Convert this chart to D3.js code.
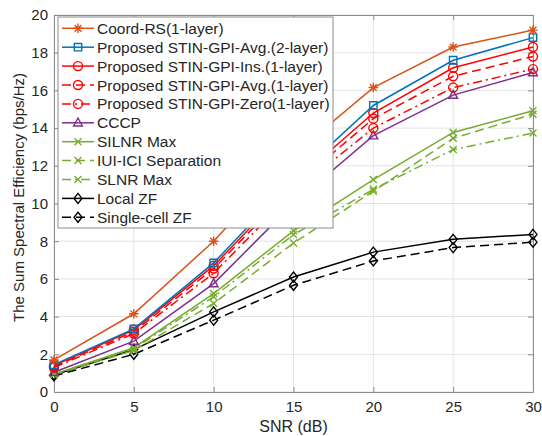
<!DOCTYPE html>
<html>
<head>
<meta charset="utf-8">
<script src="https://cdn.jsdelivr.net/npm/d3@7"></script>
<style>
  html, body { margin: 0; padding: 0; background: #fff; }
  svg { display: block; }
  text { font-family: "Liberation Sans", Arial, Helvetica, sans-serif; fill: #262626; }
</style>
</head>
<body>
<svg id="chart" width="542" height="436"></svg>
<script>
// SNR sweep (dB)
const snr = [0, 5, 10, 15, 20, 25, 30];

// Sum spectral efficiency (bps/Hz) per scheme
const coordRS   = [1.7, 4.15, 8.0, 12.6, 16.15, 18.3, 19.2];
const stinAvg2  = [1.45, 3.35, 6.85, 11.3, 15.2, 17.6, 18.8];
const stinIns1  = [1.4, 3.3, 6.7, 11.1, 14.8, 17.2, 18.3];
const stinAvg1  = [1.35, 3.2, 6.55, 10.9, 14.5, 16.75, 17.8];
const stinZero1 = [1.3, 3.1, 6.3, 10.6, 14.0, 16.15, 17.13];
const cccp      = [1.05, 2.7, 5.75, 10.0, 13.6, 15.75, 16.95];
const silnrMax  = [0.95, 2.35, 5.22, 8.55, 11.27, 13.77, 14.92];
const iuiIciSep = [0.92, 2.2, 4.7, 7.9, 10.65, 13.46, 14.74];
const slnrMax   = [0.95, 2.3, 5.05, 8.35, 10.75, 12.86, 13.74];
const localZF   = [0.9, 2.25, 4.25, 6.1, 7.42, 8.1, 8.36];
const singleZF  = [0.85, 2.0, 3.81, 5.66, 6.95, 7.66, 7.95];

const seriesNames = [
  "Coord-RS(1-layer)",
  "Proposed STIN-GPI-Avg.(2-layer)",
  "Proposed STIN-GPI-Ins.(1-layer)",
  "Proposed STIN-GPI-Avg.(1-layer)",
  "Proposed STIN-GPI-Zero(1-layer)",
  "CCCP",
  "SILNR Max",
  "IUI-ICI Separation",
  "SLNR Max",
  "Local ZF",
  "Single-cell ZF"
];
const seriesValues = [coordRS, stinAvg2, stinIns1, stinAvg1, stinZero1, cccp,
                      silnrMax, iuiIciSep, slnrMax, localZF, singleZF];

const xTicks = [0, 5, 10, 15, 20, 25, 30];
const yTicks = [0, 2, 4, 6, 8, 10, 12, 14, 16, 18, 20];

// styling per series
const ORANGE = "#D95319", BLUE = "#0072BD", RED = "#FF0000",
      PURPLE = "#7E2F8E", GREEN = "#77AC30", BLACK = "#000000";
const DASH = "9,5", DASHDOT = "9,4,2,4";
const styles = [
  { color: ORANGE, dash: null,    marker: "asterisk" },
  { color: BLUE,   dash: null,    marker: "square" },
  { color: RED,    dash: null,    marker: "circle" },
  { color: RED,    dash: DASH,    marker: "circle" },
  { color: RED,    dash: DASHDOT, marker: "circle" },
  { color: PURPLE, dash: null,    marker: "triangle" },
  { color: GREEN,  dash: null,    marker: "cross" },
  { color: GREEN,  dash: DASH,    marker: "cross" },
  { color: GREEN,  dash: DASHDOT, marker: "cross" },
  { color: BLACK,  dash: null,    marker: "diamond" },
  { color: BLACK,  dash: DASH,    marker: "diamond" }
];

const svg = d3.select("#chart");
const plot = { left: 54, right: 533, top: 15, bottom: 392 };

const x = d3.scaleLinear().domain([0, 30]).range([plot.left, plot.right]);
const y = d3.scaleLinear().domain([0, 20]).range([plot.bottom, plot.top]);

// grid
const grid = svg.append("g").attr("stroke", "#e3e3e3").attr("stroke-width", 1);
xTicks.forEach(t => grid.append("line")
  .attr("x1", x(t)).attr("x2", x(t)).attr("y1", plot.top).attr("y2", plot.bottom));
yTicks.forEach(t => grid.append("line")
  .attr("x1", plot.left).attr("x2", plot.right).attr("y1", y(t)).attr("y2", y(t)));

// axes with inward ticks on all four sides
const axisColor = "#8c8c8c";
function styleAxis(g) {
  g.select(".domain").attr("stroke", axisColor);
  g.selectAll(".tick line").attr("stroke", axisColor);
  g.selectAll(".tick text").attr("fill", "#262626").style("font-size", "15px")
    .style("font-family", "'Liberation Sans', Arial, sans-serif");
}
svg.append("g").attr("transform", `translate(0,${plot.bottom})`)
  .call(d3.axisBottom(x).tickValues(xTicks).tickFormat(d3.format("d"))
    .tickSizeInner(-5).tickSizeOuter(0).tickPadding(9))
  .call(styleAxis);
svg.append("g").attr("transform", `translate(${plot.left},0)`)
  .call(d3.axisLeft(y).tickValues(yTicks).tickFormat(d3.format("d"))
    .tickSizeInner(-5).tickSizeOuter(0).tickPadding(6))
  .call(styleAxis);
svg.append("g").attr("transform", `translate(0,${plot.top})`)
  .call(d3.axisTop(x).tickValues(xTicks).tickFormat("")
    .tickSizeInner(-5).tickSizeOuter(0))
  .call(styleAxis);
svg.append("g").attr("transform", `translate(${plot.right},0)`)
  .call(d3.axisRight(y).tickValues(yTicks).tickFormat("")
    .tickSizeInner(-5).tickSizeOuter(0))
  .call(styleAxis);

// axis titles
svg.append("text").attr("x", (plot.left + plot.right) / 2).attr("y", 432)
  .attr("text-anchor", "middle").style("font-size", "16px").text("SNR (dB)");
svg.append("text")
  .attr("transform", `translate(24,${(plot.top + plot.bottom) / 2 - 6}) rotate(-90)`)
  .attr("text-anchor", "middle").style("font-size", "15px")
  .text("The Sum Spectral Efficiency (bps/Hz)");

// marker path generators
function markerPath(kind) {
  switch (kind) {
    case "asterisk": {
      const r = 4.8, d = r * 0.7071;
      return `M${-r},0L${r},0M0,${-r}L0,${r}M${-d},${-d}L${d},${d}M${-d},${d}L${d},${-d}`;
    }
    case "square":   return "M-3.7,-3.7H3.7V3.7H-3.7Z";
    case "circle":   return "M4.5,0A4.5,4.5 0 1,1 -4.5,0A4.5,4.5 0 1,1 4.5,0Z";
    case "triangle": return "M0,-4.8L4.4,3.2L-4.4,3.2Z";
    case "cross":    return "M-3.5,-3.5L3.5,3.5M-3.5,3.5L3.5,-3.5";
    case "diamond":  return "M0,-5L4,0L0,5L-4,0Z";
  }
}
function drawMarker(g, kind, color, cx, cy) {
  return g.append("path").attr("d", markerPath(kind))
    .attr("transform", `translate(${cx},${cy})`)
    .attr("fill", "none")
    .attr("stroke", color).attr("stroke-width", 1.4);
}

// series lines and markers (earlier legend entries drawn on top)
const line = d3.line().x((d, i) => x(snr[i])).y(d => y(d));
const series = svg.append("g");
for (let k = seriesValues.length - 1; k >= 0; k--) {
  const s = styles[k];
  const g = series.append("g");
  g.append("path").datum(seriesValues[k]).attr("d", line)
    .attr("fill", "none").attr("stroke", s.color).attr("stroke-width", 1.5)
    .attr("stroke-dasharray", s.dash);
  seriesValues[k].forEach((v, i) => drawMarker(g, s.marker, s.color, x(snr[i]), y(v)));
}

// legend
const lg = svg.append("g");
const legendBox = { x: 58, y: 17, w: 275, h: 211 };
lg.append("rect").attr("x", legendBox.x).attr("y", legendBox.y)
  .attr("width", legendBox.w).attr("height", legendBox.h)
  .attr("fill", "#fff").attr("stroke", "#8c8c8c").attr("stroke-width", 1);
const rowY = d3.scaleLinear().domain([0, seriesNames.length - 1]).range([28.3, 217.3]);
seriesNames.forEach((name, k) => {
  const s = styles[k];
  const cy = rowY(k);
  lg.append("line").attr("x1", 62).attr("x2", 94).attr("y1", cy).attr("y2", cy)
    .attr("stroke", s.color).attr("stroke-width", 1.5)
    .attr("stroke-dasharray", s.dash);
  drawMarker(lg, s.marker, s.color, 78, cy);
  lg.append("text").attr("x", 97).attr("y", cy).attr("dy", "0.36em")
    .style("font-size", "15.5px").text(name);
});
</script>
</body>
</html>
